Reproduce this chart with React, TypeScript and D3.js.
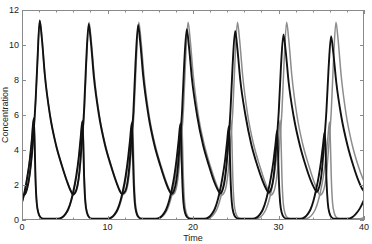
import { useEffect, useRef } from "react";
import * as d3 from "d3";

type Pt = [number, number];

// gray run, slow species (tall peaks)
const grayX: Pt[] = [
  [0, 1.4], [0.3, 1.45], [0.6, 1.8], [0.9, 2.6], [1.15, 3.7], [1.4, 5.3], [1.6, 6.9], [1.8, 9.0], [2.07, 11.4],
  [2.32, 10.4], [2.67, 8.3], [3.27, 6.0], [3.97, 4.3], [4.67, 3.1], [5.27, 2.2], [5.67, 1.7], [5.97, 1.45],
  [6.34, 1.63], [6.74, 2.7], [7.04, 4.5], [7.29, 6.2], [7.54, 9.0], [7.84, 11.3], [8.09, 10.3], [8.44, 8.3],
  [9.04, 6.0], [9.74, 4.3], [10.44, 3.1], [11.04, 2.2], [11.44, 1.7], [11.74, 1.44],
  [12.16, 1.63], [12.56, 2.7], [12.86, 4.5], [13.11, 6.2], [13.36, 9.0], [13.66, 11.3], [13.91, 10.3], [14.26, 8.3],
  [14.86, 6.0], [15.56, 4.3], [16.26, 3.1], [16.86, 2.2], [17.26, 1.7], [17.56, 1.43],
  [17.92, 1.62], [18.32, 2.7], [18.62, 4.5], [18.87, 6.2], [19.12, 9.0], [19.42, 11.3], [19.67, 10.3], [20.02, 8.3],
  [20.62, 6.0], [21.32, 4.3], [22.02, 3.1], [22.62, 2.2], [23.02, 1.7], [23.32, 1.42],
  [23.7, 1.62], [24.1, 2.7], [24.4, 4.5], [24.65, 6.2], [24.9, 9.0], [25.2, 11.3], [25.45, 10.3], [25.8, 8.3],
  [26.4, 6.0], [27.1, 4.3], [27.8, 3.1], [28.4, 2.2], [28.8, 1.7], [29.1, 1.42],
  [29.45, 1.62], [29.85, 2.7], [30.15, 4.5], [30.4, 6.2], [30.65, 9.0], [30.95, 11.3], [31.2, 10.3], [31.55, 8.3],
  [32.15, 6.0], [32.85, 4.3], [33.55, 3.1], [34.15, 2.2], [34.55, 1.7], [34.85, 1.42],
  [35.22, 1.62], [35.62, 2.7], [35.92, 4.5], [36.17, 6.2], [36.42, 9.0], [36.72, 11.3], [36.97, 10.3], [37.32, 8.3],
  [37.92, 6.0], [38.62, 4.3], [39.32, 3.1], [40, 2.2],
];

// gray run, fast species (short spikes)
const grayY: Pt[] = [
  [0, 1.0], [0.3, 1.6], [0.6, 2.4], [0.9, 3.4], [1.15, 4.6], [1.37, 5.8], [1.47, 4.6], [1.57, 2.5], [1.72, 1.0],
  [1.92, 0.4], [2.17, 0.15], [2.57, 0.07],
  [4.22, 0.07], [4.72, 0.15], [5.12, 0.35], [5.42, 0.6], [5.77, 1.1], [6.02, 1.6], [6.37, 2.5], [6.67, 3.6], [6.89, 4.7],
  [7.09, 5.7], [7.19, 4.5], [7.29, 2.5], [7.44, 1.0], [7.64, 0.4], [7.89, 0.15], [8.29, 0.07],
  [10.04, 0.07], [10.54, 0.15], [10.94, 0.35], [11.24, 0.6], [11.59, 1.1], [11.84, 1.6], [12.19, 2.5], [12.49, 3.6], [12.71, 4.7],
  [12.91, 5.7], [13.01, 4.5], [13.11, 2.5], [13.26, 1.0], [13.46, 0.4], [13.71, 0.15], [14.11, 0.07],
  [15.8, 0.07], [16.3, 0.15], [16.7, 0.35], [17.0, 0.6], [17.35, 1.1], [17.6, 1.6], [17.95, 2.5], [18.25, 3.6], [18.47, 4.7],
  [18.67, 5.7], [18.77, 4.5], [18.87, 2.5], [19.02, 1.0], [19.22, 0.4], [19.47, 0.15], [19.87, 0.07],
  [21.58, 0.07], [22.08, 0.15], [22.48, 0.35], [22.78, 0.6], [23.13, 1.1], [23.38, 1.6], [23.73, 2.5], [24.03, 3.6], [24.25, 4.7],
  [24.45, 5.7], [24.55, 4.5], [24.65, 2.5], [24.8, 1.0], [25.0, 0.4], [25.25, 0.15], [25.65, 0.07],
  [27.33, 0.07], [27.83, 0.15], [28.23, 0.35], [28.53, 0.6], [28.88, 1.1], [29.13, 1.6], [29.48, 2.5], [29.78, 3.6], [30.0, 4.7],
  [30.2, 5.7], [30.3, 4.5], [30.4, 2.5], [30.55, 1.0], [30.75, 0.4], [31.0, 0.15], [31.4, 0.07],
  [33.1, 0.07], [33.6, 0.15], [34.0, 0.35], [34.3, 0.6], [34.65, 1.1], [34.9, 1.6], [35.25, 2.5], [35.55, 3.6], [35.77, 4.7],
  [35.97, 5.6], [36.07, 4.4], [36.17, 2.5], [36.32, 1.0], [36.52, 0.4], [36.77, 0.15], [37.17, 0.07], [39.5, 0.07], [40, 0.15],
];

// black run, slow species
const blackX: Pt[] = [
  [0, 1.4], [0.3, 1.45], [0.6, 1.8], [0.9, 2.6], [1.15, 3.7], [1.4, 5.3], [1.6, 6.9], [1.8, 9.0], [2.07, 11.4],
  [2.32, 10.4], [2.67, 8.3], [3.27, 6.0], [3.97, 4.3], [4.67, 3.1], [5.27, 2.2], [5.67, 1.7], [5.97, 1.45],
  [6.3, 1.65], [6.7, 2.7], [7.0, 4.5], [7.25, 6.2], [7.5, 9.0], [7.8, 11.2], [8.05, 10.2], [8.4, 8.2],
  [9.0, 6.0], [9.7, 4.3], [10.4, 3.1], [11.0, 2.2], [11.4, 1.7], [11.7, 1.48],
  [12.08, 1.65], [12.48, 2.7], [12.78, 4.5], [13.03, 6.2], [13.28, 9.0], [13.58, 11.15], [13.83, 10.15], [14.18, 8.2],
  [14.78, 6.0], [15.48, 4.3], [16.18, 3.1], [16.78, 2.2], [17.18, 1.72], [17.48, 1.5],
  [17.77, 1.67], [18.17, 2.7], [18.47, 4.5], [18.72, 6.2], [18.97, 8.9], [19.27, 10.9], [19.52, 9.95], [19.87, 8.1],
  [20.47, 6.0], [21.17, 4.3], [21.87, 3.1], [22.47, 2.2], [22.87, 1.75], [23.17, 1.52],
  [23.43, 1.68], [23.83, 2.7], [24.13, 4.5], [24.38, 6.2], [24.63, 8.8], [24.93, 10.8], [25.18, 9.85], [25.53, 8.0],
  [26.13, 6.0], [26.83, 4.3], [27.53, 3.1], [28.13, 2.25], [28.53, 1.8], [28.83, 1.56],
  [29.08, 1.7], [29.48, 2.7], [29.78, 4.5], [30.03, 6.2], [30.28, 8.7], [30.58, 10.6], [30.83, 9.7], [31.18, 7.9],
  [31.78, 5.9], [32.48, 4.3], [33.18, 3.1], [33.78, 2.25], [34.18, 1.82], [34.48, 1.6],
  [34.65, 1.72], [35.05, 2.7], [35.35, 4.5], [35.6, 6.2], [35.85, 8.6], [36.15, 10.5], [36.4, 9.6], [36.75, 7.9],
  [37.35, 5.9], [38.05, 4.3], [38.75, 3.1], [39.35, 2.25], [39.75, 1.82], [40, 1.65],
];

// black run, fast species
const blackY: Pt[] = [
  [0, 1.0], [0.3, 1.6], [0.6, 2.4], [0.9, 3.4], [1.15, 4.6], [1.37, 5.8], [1.47, 4.6], [1.57, 2.5], [1.72, 1.0],
  [1.92, 0.4], [2.17, 0.15], [2.57, 0.07],
  [4.19, 0.07], [4.69, 0.15], [5.09, 0.35], [5.39, 0.6], [5.74, 1.1], [5.99, 1.6], [6.34, 2.5], [6.64, 3.6], [6.86, 4.7],
  [7.06, 5.65], [7.16, 4.45], [7.26, 2.5], [7.41, 1.0], [7.61, 0.4], [7.86, 0.15], [8.26, 0.07],
  [9.97, 0.07], [10.47, 0.15], [10.87, 0.35], [11.17, 0.6], [11.52, 1.1], [11.77, 1.6], [12.12, 2.5], [12.42, 3.6], [12.64, 4.6],
  [12.84, 5.55], [12.94, 4.35], [13.04, 2.5], [13.19, 1.0], [13.39, 0.4], [13.64, 0.15], [14.04, 0.07],
  [15.66, 0.07], [16.16, 0.15], [16.56, 0.35], [16.86, 0.6], [17.21, 1.1], [17.46, 1.6], [17.81, 2.5], [18.11, 3.6], [18.33, 4.6],
  [18.53, 5.5], [18.63, 4.3], [18.73, 2.5], [18.88, 1.0], [19.08, 0.4], [19.33, 0.15], [19.73, 0.07],
  [21.32, 0.07], [21.82, 0.15], [22.22, 0.35], [22.52, 0.6], [22.87, 1.1], [23.12, 1.6], [23.47, 2.5], [23.77, 3.5], [23.99, 4.5],
  [24.19, 5.35], [24.29, 4.15], [24.39, 2.4], [24.54, 1.0], [24.74, 0.4], [24.99, 0.15], [25.39, 0.07],
  [26.97, 0.07], [27.47, 0.15], [27.87, 0.35], [28.17, 0.6], [28.52, 1.1], [28.77, 1.6], [29.12, 2.45], [29.42, 3.4], [29.64, 4.3],
  [29.84, 5.1], [29.94, 3.95], [30.04, 2.3], [30.19, 1.0], [30.39, 0.4], [30.64, 0.15], [31.04, 0.07],
  [32.54, 0.07], [33.04, 0.15], [33.44, 0.35], [33.74, 0.6], [34.09, 1.1], [34.34, 1.6], [34.69, 2.45], [34.99, 3.4], [35.21, 4.3],
  [35.41, 5.05], [35.51, 3.9], [35.61, 2.3], [35.76, 1.0], [35.96, 0.4], [36.21, 0.15], [36.61, 0.07],
  [38.1, 0.07], [38.6, 0.15], [39.0, 0.32], [39.5, 0.65], [40, 1.15],
];

const xMajor = [0, 10, 20, 30, 40];
const xMinor = d3.range(0, 41, 2);
const yMajor = [0, 2, 4, 6, 8, 10, 12];

export default function App() {
  const ref = useRef<SVGSVGElement>(null);

  useEffect(() => {
    if (!ref.current) return;
    const width = 372;
    const height = 244;
    const left = 22;
    const right = 364;
    const top = 10;
    const bottom = 220;

    const svg = d3.select(ref.current);
    svg.selectAll("*").remove();

    const x = d3.scaleLinear().domain([0, 40]).range([left, right]);
    const y = d3.scaleLinear().domain([0, 12]).range([bottom, top]);

    const g = svg.append("g");
    const line = d3
      .line<Pt>()
      .x((d) => x(d[0]))
      .y((d) => y(d[1]))
      .curve(d3.curveMonotoneX);

    const clip = svg.append("clipPath").attr("id", "plot");
    clip.append("rect").attr("x", left).attr("y", top - 2).attr("width", right - left).attr("height", bottom - top + 2);

    const series = [
      { d: grayX, c: "#8c8c8c", w: 1.5 },
      { d: grayY, c: "#8c8c8c", w: 1.5 },
      { d: blackX, c: "#111", w: 1.9 },
      { d: blackY, c: "#111", w: 1.9 },
    ];
    series.forEach((s) => {
      g.append("path")
        .attr("d", line(s.d) as string)
        .attr("fill", "none")
        .attr("stroke", s.c)
        .attr("stroke-width", s.w)
        .attr("stroke-linejoin", "round")
        .attr("clip-path", "url(#plot)");
    });

    const frame = svg.append("g").attr("stroke", "#8a8a8a").attr("stroke-width", 1);
    frame
      .append("rect")
      .attr("x", left + 0.5)
      .attr("y", top + 0.5)
      .attr("width", right - left - 1)
      .attr("height", bottom - top - 1)
      .attr("fill", "none");

    xMinor.forEach((v) => {
      const len = xMajor.includes(v) ? 4 : 2.5;
      const px = Math.round(x(v)) + 0.5;
      frame.append("line").attr("x1", px).attr("x2", px).attr("y1", bottom).attr("y2", bottom - len);
      frame.append("line").attr("x1", px).attr("x2", px).attr("y1", top).attr("y2", top + len);
    });
    yMajor.forEach((v) => {
      const py = Math.round(y(v)) + 0.5;
      frame.append("line").attr("x1", left).attr("x2", left + 4).attr("y1", py).attr("y2", py);
      frame.append("line").attr("x1", right).attr("x2", right - 4).attr("y1", py).attr("y2", py);
    });

    const font = "'Liberation Sans', Arial, sans-serif";
    const labels = svg.append("g").attr("font-family", font).attr("font-size", 9).attr("fill", "#222");
    xMajor.forEach((v) => {
      labels.append("text").attr("x", x(v)).attr("y", bottom + 10).attr("text-anchor", "middle").text(v);
    });
    yMajor.forEach((v) => {
      labels.append("text").attr("x", left - 3).attr("y", y(v) + 3).attr("text-anchor", "end").text(v);
    });
    labels
      .append("text")
      .attr("x", (left + right) / 2 + 0)
      .attr("y", height - 3)
      .attr("text-anchor", "middle")
      .text("Time");
    labels
      .append("text")
      .attr("transform", `translate(8,${(top + bottom) / 2}) rotate(-90)`)
      .attr("text-anchor", "middle")
      .text("Concentration");

    svg.attr("width", width).attr("height", height);
  }, []);

  return (
    <svg
      ref={ref}
      width={372}
      height={244}
      style={{ position: "absolute", left: 0, top: 0, background: "#fff" }}
    />
  );
}
